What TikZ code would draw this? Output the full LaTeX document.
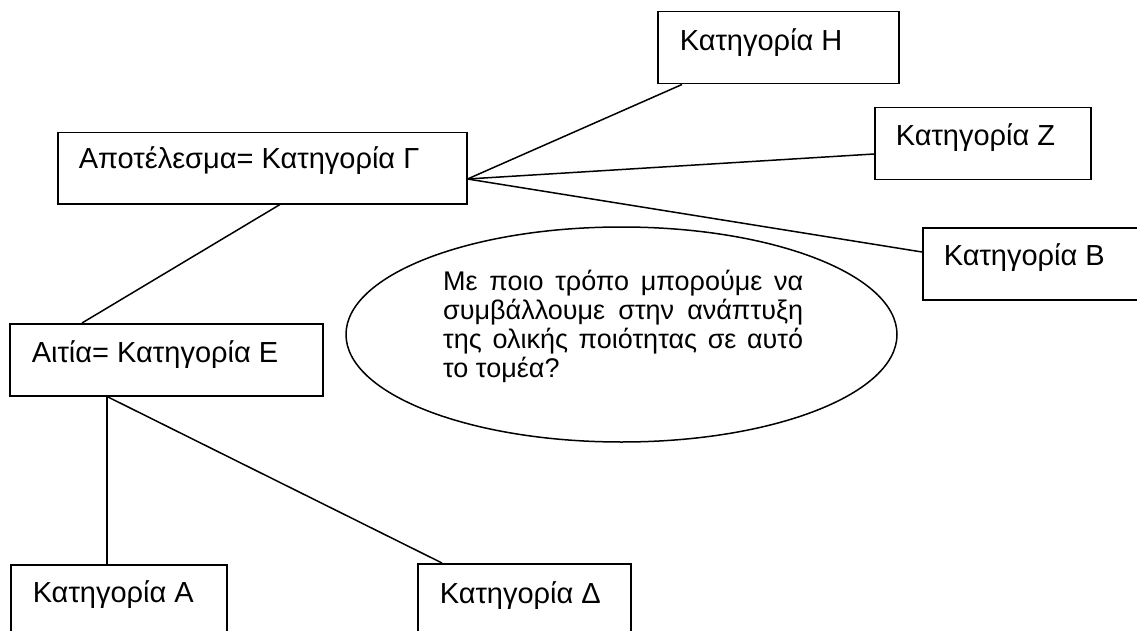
\documentclass[tikz,border=0pt]{standalone}
\usepackage{fontspec}
\setmainfont{Liberation Sans}
\usetikzlibrary{shapes.geometric}
\newcommand{\bxt}[3]{\hbox to #1pt{\hskip #2pt #3\hss}}
\newcommand{\jline}[1]{\hbox to 360pt{#1}}
\begin{document}
\begin{tikzpicture}[x=1pt,y=-1pt,
  conn/.style={line width=1.5pt},
  box/.style={draw, line width=1.5pt, anchor=north west, inner sep=0pt, font=\fontsize{29}{34}\selectfont},
  bubble/.style={ellipse, draw, line width=1.5pt, inner sep=0pt},
  qtext/.style={anchor=base west, inner sep=0pt, font=\fontsize{27}{29.3}\selectfont}
]
\useasboundingbox (0,0) rectangle (1137,631);
\clip (0,0) rectangle (1137,631);

\node[box, text height=36pt, text depth=35pt] (g) at (57,132) {\bxt{409}{21}{Αποτέλεσμα= Κατηγορία Γ}};
\node[box, text height=39pt, text depth=33pt] (e) at (9,323) {\bxt{313}{22}{Αιτία= Κατηγορία Ε}};
\node[box, text height=39pt, text depth=33pt] (h) at (657,11) {\bxt{241}{22}{Κατηγορία Η}};
\node[box, text height=38pt, text depth=34pt] (z) at (874,107) {\bxt{216}{21}{Κατηγορία Ζ}};
\node[box, text height=38pt, text depth=34pt] (b) at (922,227) {\bxt{240}{21}{Κατηγορία Β}};
\node[box, text height=38pt, text depth=100pt] (a) at (10,564) {\bxt{216}{22}{Κατηγορία Α}};
\node[box, text height=40pt, text depth=100pt] (d) at (417,563) {\bxt{213}{22}{Κατηγορία Δ}};

\node[bubble, minimum width=551pt, minimum height=215pt] (q) at (621.5,334.5) {};
\node[qtext] (qt) at (443,290) {\vtop{\baselineskip=29.3pt
  \jline{Με ποιο τρόπο μπορούμε να}
  \jline{συμβάλλουμε στην ανάπτυξη}
  \jline{της ολικής ποιότητας σε αυτό}
  \hbox{το τομέα?}}};

\draw[conn] ([xshift=223pt]g.south west) -- ([xshift=73pt]e.north west);
\draw[conn] ([yshift=-47pt]g.north east) -- ([xshift=25pt]h.south west);
\draw[conn] ([yshift=-47pt]g.north east) -- ([yshift=-47pt]z.north west);
\draw[conn] ([yshift=-47pt]g.north east) -- ([yshift=-25pt]b.north west);
\draw[conn] ([xshift=98pt]e.south west) -- ([xshift=97pt]a.north west);
\draw[conn] ([xshift=98pt]e.south west) -- ([xshift=25pt]d.north west);
\end{tikzpicture}
\end{document}
